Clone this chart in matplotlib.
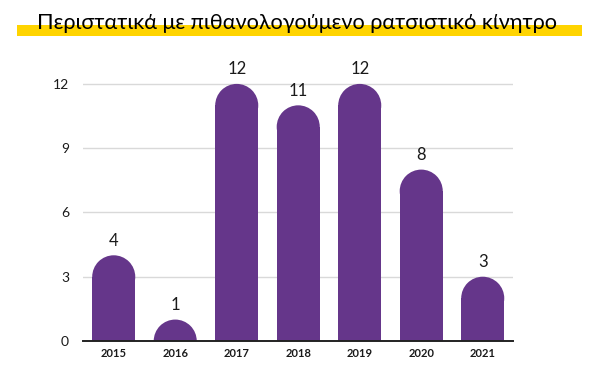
import matplotlib

matplotlib.use("Agg")

import matplotlib.pyplot as plt
from matplotlib.patches import Ellipse, Rectangle

PURPLE = "#65368A"
YELLOW = "#FFD400"
GRID = "#D9D9D9"
INK = "#1A1A1A"

years = ["2015", "2016", "2017", "2018", "2019", "2020", "2021"]
incidents = [4, 1, 12, 11, 12, 8, 3]
yticks = [0, 3, 6, 9, 12]
title = "Περιστατικά με πιθανολογούμενο ρατσιστικό κίνητρο"

plt.rcParams["font.family"] = ["Lato", "DejaVu Sans"]

fig = plt.figure(figsize=(6.0, 3.71), dpi=100)
ax = fig.add_axes([0.1383, 0.0809, 0.7175, 0.7507])
ax.set_xlim(-0.5, len(years) - 0.5)
ax.set_ylim(0, 13)

bar_w = 0.70
# radius of the rounded cap, in y units, so the cap is a true half circle
fig.canvas.draw()
bbox = ax.get_window_extent()
px_per_x = bbox.width / (ax.get_xlim()[1] - ax.get_xlim()[0])
px_per_y = bbox.height / (ax.get_ylim()[1] - ax.get_ylim()[0])
r = bar_w / 2 * px_per_x / px_per_y

for i, v in enumerate(incidents):
    body = max(v - r, 0)
    ax.bar(i, body, width=bar_w, color=PURPLE, zorder=2, linewidth=0)
    ax.add_patch(Ellipse((i, v - r), bar_w, 2 * r, facecolor=PURPLE,
                         edgecolor="none", zorder=2))
    ax.text(i, v + 0.3, str(v), ha="center", va="bottom", fontsize=12,
            color=INK, clip_on=False)

for y in yticks[1:]:
    ax.axhline(y, color=GRID, linewidth=1, zorder=1)

ax.set_xticks(range(len(years)))
ax.set_xticklabels(years, fontsize=8, fontweight="bold", color=INK)
ax.set_yticks(yticks)
ax.set_yticklabels([str(t) for t in yticks], fontsize=10, color=INK)
ax.tick_params(axis="both", length=0)
ax.tick_params(axis="x", pad=5)
ax.tick_params(axis="y", pad=10)
for side in ["left", "right", "top"]:
    ax.spines[side].set_visible(False)
ax.spines["bottom"].set_color("#222222")
ax.spines["bottom"].set_linewidth(1.4)
ax.spines["bottom"].set_zorder(3)

# title with yellow highlighter band
fig.patches.append(Rectangle((17 / 600, 1 - 36 / 371), 565 / 600, 11 / 371,
                             transform=fig.transFigure, facecolor=YELLOW,
                             edgecolor="none", zorder=0))
fig.text(0.495, 1 - 23 / 371, title, ha="center", va="center", fontsize=15.6,
         color="black", zorder=2)

fig.savefig("out.png", dpi=100)
